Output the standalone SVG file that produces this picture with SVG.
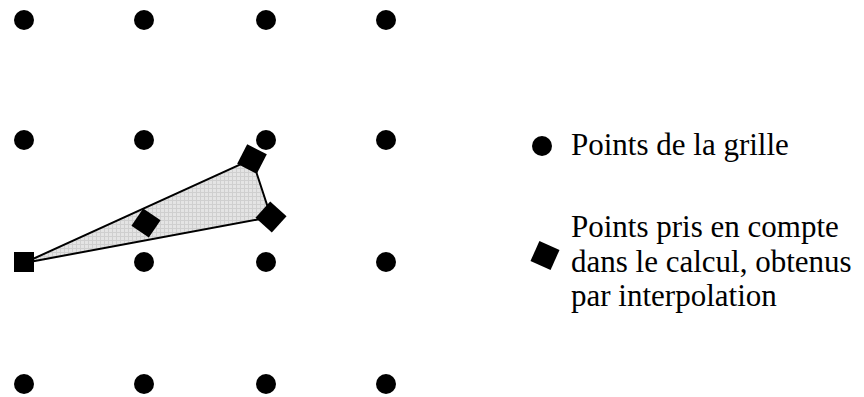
<svg xmlns="http://www.w3.org/2000/svg" width="864" height="397" viewBox="0 0 864 397">
<style>
.dot{fill:#000}
.mk{fill:#000}
.lbl{font-family:"Liberation Serif","Times New Roman",serif;font-size:31px;fill:#000}
.area{fill:url(#hatch);stroke:#000;stroke-width:2;stroke-linejoin:miter}
</style>
<defs>
<pattern id="hatch" width="4" height="4" patternUnits="userSpaceOnUse">
<rect width="4" height="4" fill="#e4e4e4"/>
<path d="M0 0.5H4M0.5 0V4" stroke="#cfcfcf" stroke-width="1"/>
</pattern>
</defs>
<rect width="864" height="397" fill="#fff"/>
<g id="grid">
<circle class="dot" cx="24" cy="20" r="10"/><circle class="dot" cx="144" cy="20" r="10"/><circle class="dot" cx="266" cy="20" r="10"/><circle class="dot" cx="386" cy="20" r="10"/>
<circle class="dot" cx="24" cy="140" r="10"/><circle class="dot" cx="144" cy="140" r="10"/><circle class="dot" cx="266" cy="140" r="10"/><circle class="dot" cx="386" cy="140" r="10"/>
<circle class="dot" cx="144" cy="262" r="10"/><circle class="dot" cx="266" cy="262" r="10"/><circle class="dot" cx="386" cy="262" r="10"/>
<circle class="dot" cx="24" cy="384" r="10"/><circle class="dot" cx="144" cy="384" r="10"/><circle class="dot" cx="266" cy="384" r="10"/><circle class="dot" cx="386" cy="384" r="10"/>
</g>
<g id="connectors">
<polygon class="area" points="24,263 252,159 271,217"/>
</g>
<g id="origin"><rect class="mk" x="14" y="252" width="20" height="20"/></g>
<g id="p-top"><rect class="mk" x="-11" y="-11" width="22" height="22" transform="translate(252,159) rotate(27)"/></g>
<g id="p-mid"><rect class="mk" x="-10.5" y="-10.5" width="21" height="21" transform="translate(146,223) rotate(34)"/></g>
<g id="p-right"><rect class="mk" x="-11" y="-11" width="22" height="22" transform="translate(271,217) rotate(42)"/></g>
<g id="legend-grid">
<circle class="dot" cx="542" cy="146" r="10"/>
<text class="lbl" x="571" y="155">Points de la grille</text>
</g>
<g id="legend-interp">
<rect class="mk" x="-11" y="-11" width="22" height="22" transform="translate(545,255.5) rotate(24)"/>
<text class="lbl" x="571" y="237">Points pris en compte</text>
<text class="lbl" x="571" y="272">dans le calcul, obtenus</text>
<text class="lbl" x="571" y="306">par interpolation</text>
</g>
</svg>
